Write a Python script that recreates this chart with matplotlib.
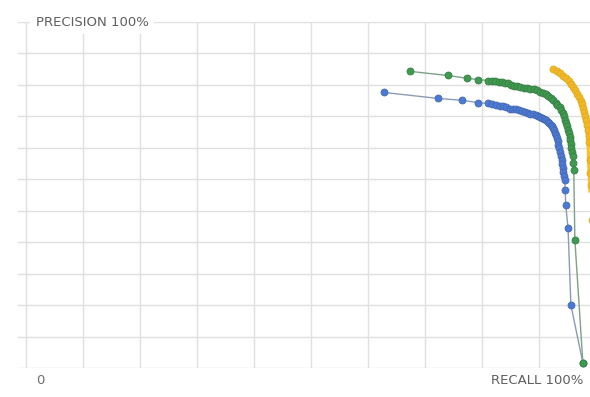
import matplotlib.pyplot as plt
import numpy as np

# precision / recall curves (fractions of 1.0)
blue_recall = [0.628, 0.723, 0.765, 0.793, 0.811, 0.818, 0.825, 0.831, 0.837, 0.843,
               0.849, 0.855, 0.860, 0.865, 0.870, 0.876, 0.881, 0.885, 0.889, 0.894,
               0.898, 0.902, 0.905, 0.909, 0.912, 0.915, 0.918, 0.921, 0.923, 0.925,
               0.926, 0.928, 0.930, 0.932, 0.933, 0.934, 0.935, 0.937, 0.939, 0.940,
               0.941, 0.942, 0.943, 0.944, 0.945, 0.946, 0.947, 0.951, 0.956, 0.977]
blue_precision = [0.876, 0.857, 0.851, 0.844, 0.841, 0.838, 0.835, 0.833, 0.832, 0.829,
                  0.825, 0.823, 0.822, 0.819, 0.816, 0.813, 0.810, 0.808, 0.806, 0.803,
                  0.800, 0.797, 0.794, 0.791, 0.787, 0.783, 0.778, 0.773, 0.768, 0.762,
                  0.756, 0.748, 0.740, 0.731, 0.721, 0.710, 0.698, 0.686, 0.673, 0.661,
                  0.648, 0.635, 0.622, 0.610, 0.597, 0.565, 0.517, 0.444, 0.200, 0.016]

green_recall = [0.674, 0.740, 0.774, 0.793, 0.811, 0.817, 0.823, 0.829, 0.835, 0.840,
                0.846, 0.851, 0.856, 0.861, 0.867, 0.873, 0.879, 0.885, 0.891, 0.896,
                0.902, 0.907, 0.912, 0.916, 0.921, 0.925, 0.929, 0.932, 0.936, 0.939,
                0.942, 0.944, 0.946, 0.947, 0.949, 0.951, 0.953, 0.954, 0.955, 0.956,
                0.957, 0.958, 0.959, 0.960, 0.961, 0.963, 0.977]
green_precision = [0.943, 0.930, 0.921, 0.917, 0.914, 0.912, 0.911, 0.909, 0.908, 0.906,
                   0.905, 0.901, 0.898, 0.895, 0.892, 0.890, 0.889, 0.887, 0.886, 0.883,
                   0.879, 0.875, 0.870, 0.864, 0.857, 0.851, 0.844, 0.837, 0.829, 0.820,
                   0.810, 0.800, 0.790, 0.779, 0.768, 0.757, 0.746, 0.735, 0.724, 0.711,
                   0.698, 0.686, 0.673, 0.651, 0.629, 0.406, 0.016]

yellow_recall = [0.925, 0.931, 0.937, 0.942, 0.947, 0.952, 0.956, 0.960, 0.963, 0.967,
                 0.970, 0.973, 0.975, 0.977, 0.979, 0.981, 0.982, 0.984, 0.986, 0.987,
                 0.988, 0.989, 0.990, 0.991, 0.993]
yellow_precision = [0.949, 0.943, 0.937, 0.929, 0.921, 0.912, 0.902, 0.893, 0.883, 0.872,
                    0.860, 0.849, 0.838, 0.826, 0.813, 0.800, 0.787, 0.772, 0.756, 0.737,
                    0.717, 0.660, 0.620, 0.581, 0.470]

fig = plt.figure(figsize=(5.9, 3.97), dpi=100)
ax = fig.add_axes([18 / 590, 29 / 397, 572 / 590, 346 / 397])

ax.set_xlim(-0.014, 0.9895)
ax.set_ylim(0, 1.1)
ax.set_xticks(np.arange(0, 1.0, 0.1))
ax.set_yticks(np.arange(0, 1.11, 0.1))
ax.grid(True, color="#e0e0e0", linewidth=1)
ax.tick_params(length=0, labelbottom=False, labelleft=False)
for s in ax.spines.values():
    s.set_visible(False)

ax.plot(yellow_recall, yellow_precision, color="#f4c23a", linewidth=4, marker="o",
        markersize=5, markerfacecolor="#f2b824", markeredgecolor="#e0ab20",
        markeredgewidth=0.6, zorder=3)
ax.plot(blue_recall, blue_precision, color="#8a9bb8", linewidth=1, marker="o",
        markersize=5, markerfacecolor="#4a7ad6", markeredgecolor="#4569b0",
        markeredgewidth=0.6, zorder=4)
ax.plot(green_recall, green_precision, color="#7fa087", linewidth=1, marker="o",
        markersize=5, markerfacecolor="#3f9a50", markeredgecolor="#357f43",
        markeredgewidth=0.6, zorder=5)

fig.text(36 / 590, 1 - 22 / 397, "PRECISION 100%", fontsize=9.5, color="#5f5f5f",
         ha="left", va="center", bbox=dict(facecolor="white", edgecolor="none", pad=4))
fig.text(36 / 590, 1 - 381 / 397, "0", fontsize=9.5, color="#6f6f6f", ha="left", va="center")
fig.text(583 / 590, 1 - 381 / 397, "RECALL 100%", fontsize=9.5, color="#5f5f5f",
         ha="right", va="center")

fig.savefig("out.png", dpi=100)
